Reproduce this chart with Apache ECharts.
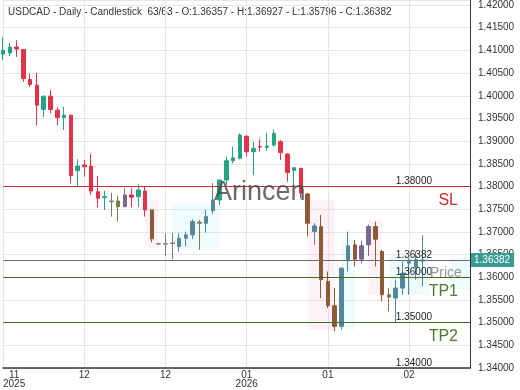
<!DOCTYPE html>
<html><head><meta charset="utf-8">
<script src="https://cdn.jsdelivr.net/npm/echarts@6/dist/echarts.min.js"></script>
<style>html,body{margin:0;padding:0;background:#fff}#c{width:520px;height:390px}</style>
</head><body><div id="c"></div>
<script>
// ---- data ----
const categories = [
 '2025-11-14','2025-11-17','2025-11-18','2025-11-19','2025-11-20','2025-11-21','2025-11-24','2025-11-25','2025-11-26','2025-11-27',
 '2025-11-28','2025-12-01','2025-12-02','2025-12-03','2025-12-04','2025-12-05','2025-12-08','2025-12-09','2025-12-10','2025-12-11',
 '2025-12-12','2025-12-15','2025-12-16','2025-12-17','2025-12-18','2025-12-19','2025-12-22','2025-12-23','2025-12-24','2025-12-26',
 '2025-12-29','2025-12-30','2025-12-31','2026-01-02','2026-01-05','2026-01-06','2026-01-07','2026-01-08','2026-01-09','2026-01-12',
 '2026-01-13','2026-01-14','2026-01-15','2026-01-16','2026-01-19','2026-01-20','2026-01-21','2026-01-22','2026-01-23','2026-01-26',
 '2026-01-27','2026-01-28','2026-01-29','2026-01-30','2026-02-02','2026-02-03','2026-02-04','2026-02-05','2026-02-06','2026-02-09',
 '2026-02-10','2026-02-11','2026-02-12',
 '2026-02-13','2026-02-16','2026-02-17','2026-02-18','2026-02-19','2026-02-20','2026-02-23'
];
const open = [1.40914,1.40943,1.41075,1.41018,1.40358,1.40233,1.39698,1.39991,1.39683,1.39522,
 1.39573,1.38348,1.38473,1.38451,1.37886,1.37754,1.37666,1.37681,1.37556,1.37813,
 1.37776,1.37901,1.37484,1.36740,1.36732,1.36745,1.36676,1.36861,1.36934,1.37191,
 1.37191,1.37468,1.37703,1.38143,1.38568,1.38620,1.39111,1.38766,1.38884,1.38862,
 1.38913,1.38986,1.38715,1.38348,1.38401,1.37835,1.37006,1.37116,1.35906,1.35372,
 1.34917,1.36368,1.36714,1.36399,1.36714,1.37116,1.36566,1.35614,1.35541,1.35761,
 1.36311,1.36223,1.36357];
const high = [1.41295,1.41163,1.41222,1.41030,1.40490,1.40503,1.40000,1.40123,1.39742,1.39755,
 1.39580,1.38599,1.38583,1.38715,1.38231,1.37908,1.37864,1.37798,1.37961,1.37961,
 1.38049,1.37996,1.37490,1.36760,1.36971,1.36978,1.36971,1.37006,1.37279,1.37264,
 1.37484,1.38077,1.38150,1.38656,1.38876,1.39170,1.39120,1.38986,1.39038,1.39183,
 1.39258,1.39023,1.38730,1.38420,1.38410,1.37857,1.37191,1.37373,1.36126,1.35761,
 1.36210,1.37006,1.36824,1.36808,1.37160,1.37226,1.36604,1.35761,1.35944,1.36346,
 1.36420,1.36566,1.36927];
const low = [1.40782,1.40870,1.40855,1.40305,1.40195,1.39353,1.39529,1.39610,1.39353,1.39243,
 1.38071,1.37996,1.38216,1.37813,1.37543,1.37484,1.37336,1.37226,1.37543,1.37543,
 1.37543,1.37336,1.36769,1.36720,1.36472,1.36399,1.36566,1.36676,1.36846,1.36604,
 1.36984,1.37396,1.37593,1.38033,1.38511,1.38599,1.38656,1.38253,1.38766,1.38788,
 1.38876,1.38583,1.38106,1.37996,1.37747,1.36896,1.36714,1.35541,1.35322,1.34807,
 1.34844,1.36126,1.36236,1.36311,1.36470,1.36236,1.35467,1.35247,1.34992,1.35614,
 1.35614,1.35944,1.35796];
const close = [1.41002,1.41075,1.41031,1.40380,1.40248,1.39793,1.39991,1.39698,1.39522,1.39573,
 1.38238,1.38451,1.38436,1.37901,1.37741,1.37776,1.37681,1.37556,1.37813,1.37763,
 1.37923,1.37484,1.36846,1.36732,1.36740,1.36755,1.36861,1.36934,1.37226,1.37213,
 1.37336,1.37703,1.38143,1.38568,1.38634,1.39133,1.38766,1.38840,1.38869,1.38891,
 1.39170,1.38744,1.38304,1.38414,1.37857,1.37191,1.37131,1.35944,1.35372,1.34917,
 1.36201,1.36692,1.36399,1.36692,1.37116,1.36839,1.35614,1.35563,1.35761,1.36091,
 1.36346,1.36384,1.36382];
const tickIndex = [0, 12, 24, 36, 48, 60];
const tickText = ['11\n2025', '12', '12', '01\n2026', '01', '02'];
const levelNames = ['SL', 'TP1', 'TP2'];
const levelPrices = [1.38, 1.36, 1.35];
const extraPriceLabels = [1.34];
const lastPrice = 1.36382;
// tinted candle zones (index ranges and price ranges)
const pinkZones = [[21, 23, 1.3770, 1.3665], [45, 49, 1.3770, 1.3484], [54, 56, 1.3727, 1.3561]];
const cyanZones = [[25, 32, 1.3760, 1.3662], [50, 52, 1.3683, 1.3484], [57, 63, 1.3649, 1.3561], [66, 69, 1.3643, 1.3573]];
// per-candle tint (style only)
const tintIdx = {16:'gray',17:'olive',18:'purple',22:'brown',23:'gray',24:'gray',25:'gray',26:'steel',27:'steel',28:'steel',29:'olive',30:'steel',31:'steel',
 45:'brown',46:'steel',47:'brown',48:'brown',49:'brown',50:'steel',51:'steel',52:'brown',53:'purple',54:'purple',55:'brown',56:'brown',57:'olive',
 58:'steel',59:'steel',60:'steel',61:'steel',62:'steel'};

// ---- styles ----
const UP = '#26a383', DOWN = '#e13347';
const TINT = {gray:'#7c7c7c', olive:'#7d7844', purple:'#7a678e', brown:'#8c5a34', steel:'#54879a'};
const FONT = 'Liberation Sans, Arial, sans-serif';
const SLC = '#cc2b2b', TPC = '#3d6e22', TPT = '#4d7c2c';
const HIDDEN = {color: 'rgba(255,255,255,0)', width: 1, type: 'solid'};

const candleData = open.map((o, i) => {
  const item = {value: [o, close[i], low[i], high[i]]};
  const t = tintIdx[i];
  if (t) { const c = TINT[t]; item.itemStyle = {color: c, color0: c, borderColor: c, borderColor0: c}; }
  return item;
});

const priceLabel = (p) => ({show: true, position: 'insideEndTop', formatter: p.toFixed(5), color: '#222', fontSize: 10, fontFamily: FONT, distance: 0, padding: [0, 38, 0, 0], opacity: 1});

const markLines = [];
levelNames.forEach((n, i) => {
  const p = levelPrices[i];
  const isSL = n === 'SL';
  markLines.push({yAxis: p, lineStyle: {color: isSL ? SLC : TPC, width: 1, type: 'solid'}, label: priceLabel(p)});
  markLines.push({yAxis: p, lineStyle: HIDDEN,
    label: {show: true, position: 'insideEndBottom', formatter: n, color: isSL ? SLC : TPT, fontSize: 16, fontFamily: FONT, distance: 6, padding: [0, 6, 0, 0], opacity: 1}});
});
extraPriceLabels.forEach(p => markLines.push({yAxis: p, lineStyle: HIDDEN, label: priceLabel(p)}));
markLines.push({yAxis: lastPrice, lineStyle: {color: '#6a6a6a', width: 1, type: 'solid'}, label: priceLabel(lastPrice)});
markLines.push({yAxis: lastPrice, lineStyle: HIDDEN,
  label: {show: true, position: 'end', formatter: lastPrice.toFixed(5), color: '#fff', backgroundColor: '#3a9d92', fontSize: 10, fontFamily: FONT, distance: 1, padding: [2, 4, 2, 3], opacity: 1}});

const markAreas = [];
pinkZones.forEach(z => markAreas.push([{xAxis: z[0], yAxis: z[2], itemStyle: {color: 'rgba(255,170,210,0.16)'}}, {xAxis: z[1], yAxis: z[3]}]));
cyanZones.forEach(z => markAreas.push([{xAxis: z[0], yAxis: z[2], itemStyle: {color: 'rgba(150,235,240,0.16)'}}, {xAxis: z[1], yAxis: z[3]}]));

const showTick = (idx) => tickIndex.indexOf(idx) >= 0;

const chart = echarts.init(document.getElementById('c'), null, {renderer: 'canvas'});
chart.setOption({
  animation: false,
  backgroundColor: '#fff',
  textStyle: {fontFamily: FONT},
  grid: {left: 3, right: 50, top: 0, bottom: 22},
  graphic: [
    {type: 'text', left: 8, top: 7, style: {text: 'USDCAD - Daily - Candlestick  63/63 - O:' + open[62].toFixed(5) + ' - H:' + high[62].toFixed(5) + ' - L:' + low[62].toFixed(5) + ' - C:' + close[62].toFixed(5), fill: '#333', font: '10px ' + FONT}},
    {type: 'text', x: 214, y: 193, z: 50, style: {text: 'Arincen', fill: 'rgba(70,70,70,0.8)', font: '27px ' + FONT, verticalAlign: 'middle'}},
    {type: 'text', x: 430, y: 273, z: 50, style: {text: 'Price', fill: 'rgba(140,140,140,0.9)', font: '14px ' + FONT, verticalAlign: 'middle'}}
  ],
  xAxis: {
    type: 'category', data: categories, boundaryGap: false,
    axisLine: {lineStyle: {color: '#333', width: 1.5}},
    axisTick: {show: false},
    axisLabel: {
      interval: (idx) => showTick(idx), margin: 3, color: '#333', fontSize: 10, alignMinLabel: 'left',
      formatter: (v, idx) => { const k = tickIndex.indexOf(idx); if (k < 0) return ''; return tickText[k].split('\n').map(s => '{t|' + s + '}').join('\n'); },
      rich: {t: {fontSize: 10, lineHeight: 9, width: 22, align: 'center', color: '#333', fontFamily: FONT}}
    },
    splitLine: {show: true, interval: (idx) => showTick(idx), lineStyle: {color: '#e6e6e6', width: 1}}
  },
  yAxis: {
    type: 'value', position: 'right', min: 1.34, max: 1.421, interval: 0.005, scale: true,
    axisLine: {show: true, lineStyle: {color: '#333', width: 1}},
    axisTick: {show: false},
    axisLabel: {color: '#333', fontSize: 10, margin: 8, formatter: v => v.toFixed(5)},
    splitLine: {show: true, lineStyle: {color: '#e6e6e6', width: 1}}
  },
  series: [{
    type: 'candlestick', data: candleData, barWidth: 4,
    itemStyle: {color: UP, color0: DOWN, borderColor: UP, borderColor0: DOWN, borderWidth: 1},
    markLine: {symbol: ['none', 'none'], silent: true, animation: false, precision: 5, data: markLines},
    markArea: {silent: true, data: markAreas}
  }]
});
</script></body></html>
